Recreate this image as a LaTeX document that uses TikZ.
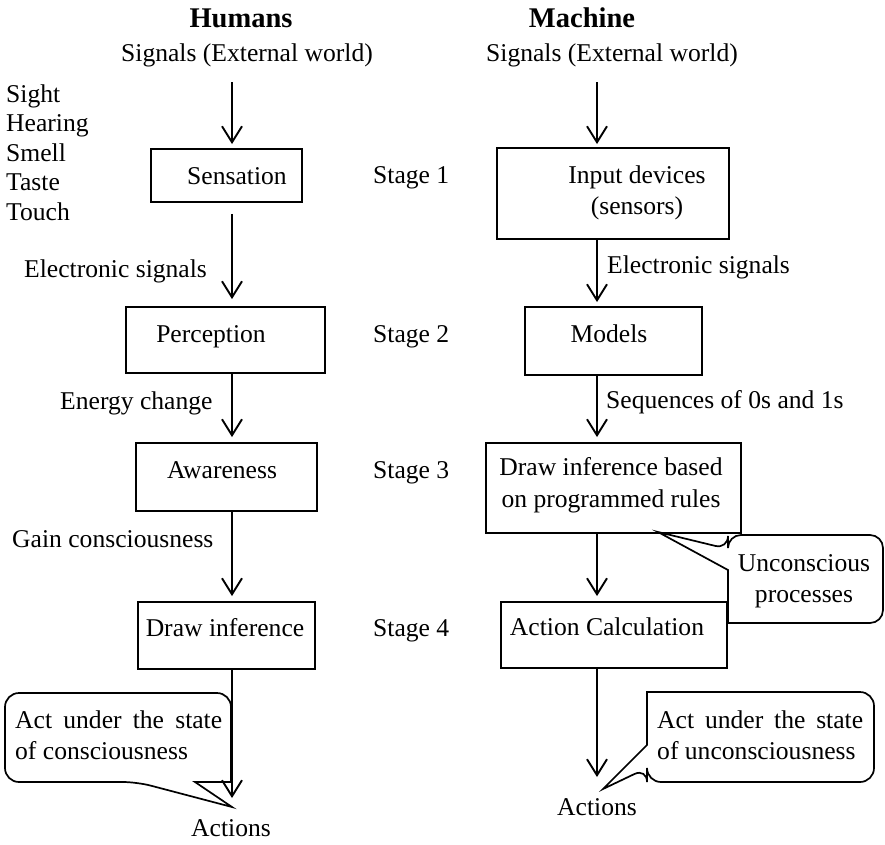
\documentclass[tikz,border=0pt]{standalone}
\usepackage{fontspec}
\setmainfont{Liberation Serif}
\usetikzlibrary{arrows.meta}
\begin{document}
\begin{tikzpicture}[x=1pt,y=-1pt,
  txt/.style={inner sep=0pt, font=\fontsize{25.6}{31}\selectfont},
  title/.style={inner sep=0pt, font=\fontsize{28.5}{34}\selectfont\bfseries},
  stagebox/.style 2 args={draw, line width=1.9pt, inner sep=0pt,
    minimum width=#1pt, minimum height=#2pt},
  arr/.style={line width=1.9pt, -{Straight Barb[length=16pt,width=20pt]}},
  callout/.style={line width=1.7pt}]
\useasboundingbox (0,0) rectangle (885,844);

% column axes for the vertical connectors
\coordinate (colL) at (232,0);
\coordinate (colR) at (597,0);

% headings
\node[title, anchor=base] (hum) at (241,27) {Humans};
\node[title, anchor=base] (mac) at (582,27) {Machine};
\node[txt, anchor=base] (sigL) at (247,61) {Signals (External world)};
\node[txt, anchor=base] (sigR) at (612,61) {Signals (External world)};

% the five senses (anchored on the last line)
\node[txt, anchor=base west, align=left, font=\fontsize{25.6}{29.5}\selectfont]
  (senses) at (6,220) {Sight\\Hearing\\Smell\\Taste\\Touch};

% human stages
\node[stagebox={151}{53}] (sens) at (226.5,175.5) {};
\node[txt, anchor=base] (sensT) at (237,184) {Sensation};
\node[stagebox={199}{66}] (perc) at (225.5,340) {};
\node[txt, anchor=base] (percT) at (211,342) {Perception};
\node[stagebox={181}{68}] (awar) at (226.5,477) {};
\node[txt, anchor=base] (awarT) at (222,478) {Awareness};
\node[stagebox={177}{67}] (dinf) at (226.5,635.5) {};
\node[txt, anchor=base] (dinfT) at (225,636) {Draw inference};
\node[txt, anchor=base] (actL) at (231,836) {Actions};

% stage numbers
\node[txt, anchor=base west] (st1) at (373,183) {Stage 1};
\node[txt, anchor=base west] (st2) at (373,342) {Stage 2};
\node[txt, anchor=base west] (st3) at (373,478) {Stage 3};
\node[txt, anchor=base west] (st4) at (373,636) {Stage 4};

% machine stages
\node[stagebox={232}{91}] (inp) at (613,193.5) {};
\node[txt, anchor=base, align=center] (inpT) at (637,214) {Input devices\\(sensors)};
\node[stagebox={177}{68}] (mod) at (613.5,341) {};
\node[txt, anchor=base] (modT) at (609,342) {Models};
\node[stagebox={255}{90}] (rules) at (613.5,488) {};
\node[txt, anchor=base, align=center, font=\fontsize{25.6}{32}\selectfont]
  (rulesT) at (611,507) {Draw inference based\\on programmed rules};
\node[stagebox={226}{66}] (calc) at (614,635) {};
\node[txt, anchor=base] (calcT) at (607,635) {Action Calculation};
\node[txt, anchor=base] (actR) at (597,815) {Actions};

% connector labels
\node[txt, anchor=base west] (lblL1) at (24,277) {Electronic signals};
\node[txt, anchor=base west] (lblL2) at (60,409) {Energy change};
\node[txt, anchor=base west] (lblL3) at (12,547) {Gain consciousness};
\node[txt, anchor=base west] (lblR1) at (607,273) {Electronic signals};
\node[txt, anchor=base west] (lblR2) at (606,408) {Sequences of 0s and 1s};

% human flow
\draw[arr] ([yshift=-21pt]sigL.base -| colL) -- ([yshift=4pt]sens.north -| colL);
\draw[arr] ([yshift=-11pt]sens.south -| colL) -- ([yshift=7pt]perc.north -| colL);
\draw[arr] (perc.south -| colL) -- ([yshift=5pt]awar.north -| colL);
\draw[arr] (awar.south -| colL) -- ([yshift=5pt]dinf.north -| colL);
\draw[arr] (dinf.south -| colL) -- ([yshift=38pt]actL.base -| colL);

% machine flow
\draw[arr] ([yshift=-21pt]sigR.base -| colR) -- ([yshift=3pt]inp.north -| colR);
\draw[arr] (inp.south -| colR) -- ([yshift=4pt]mod.north -| colR);
\draw[arr] (mod.south -| colR) -- ([yshift=5pt]rules.north -| colR);
\draw[arr] (rules.south -| colR) -- ([yshift=5pt]calc.north -| colR);
\draw[arr] (calc.south -| colR) -- ([yshift=38pt]actR.base -| colR);

% speech bubbles
\coordinate (tipL) at (232,807);
\coordinate (tipU) at (658,532);
\coordinate (tipR) at (603,789);

\node[txt, anchor=base west, text width=207pt, align=justify]
  (bubL) at (15,728) {Act under the state\linebreak of consciousness};
\draw[callout] (tipL) -- (195,782) -- (231,782) [rounded corners=14pt]
  -- (231,693) -- (5,693) -- (5,782) -- (137,782) [sharp corners] -- cycle;

\node[txt, anchor=base, align=center] (bubU) at (804,602) {Unconscious\\processes};
\draw[callout] (tipU) -- (728,570) -- (728,623) [rounded corners=13pt]
  -- (883,623) -- (883,535) -- (728,535) -- (728,549) [sharp corners] -- cycle;

\node[txt, anchor=base west, text width=206pt, align=justify]
  (bubR) at (657,728) {Act under the state\linebreak of unconsciousness};
\draw[callout] (tipR) -- (647,745) -- (647,692) [rounded corners=14pt]
  -- (874,692) -- (874,782) -- (647,782) -- (647,768) [sharp corners] -- cycle;
\end{tikzpicture}
\end{document}
